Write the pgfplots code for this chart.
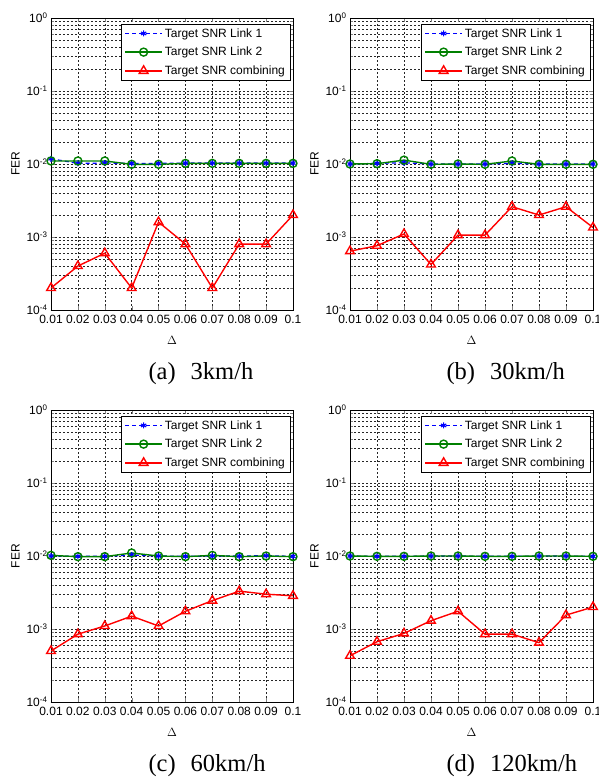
\documentclass[border=0pt]{standalone}
\usepackage{fontspec}
\setmainfont{Liberation Sans}
\newfontfamily\capfont{Liberation Serif}
\usepackage{pgfplots}
\pgfplotsset{compat=1.18}
\definecolor{mgreen}{rgb}{0,0.5,0}
\pgfplotsset{legend image code/.code={\draw[mark repeat=2,mark phase=2,#1] plot coordinates {(0pt,0pt) (18.5pt,0pt) (37pt,0pt)};}}
\begin{document}
\begin{tikzpicture}
\path[use as bounding box] (0pt,0pt) rectangle (598pt,779pt);
% (a)
\begin{axis}[
  at={(51pt,469pt)}, anchor=south west,
  scale only axis, width=242pt, height=292pt,
  ymode=log, ymin=1e-4, ymax=1,
  xmin=0.01, xmax=0.1,
  xtick={0.01,0.02,0.03,0.04,0.05,0.06,0.07,0.08,0.09,0.1},
  xticklabels={0.01,0.02,0.03,0.04,0.05,0.06,0.07,0.08,0.09,0.1},
  ytick={1e-4,1e-3,1e-2,1e-1,1},
  yticklabels={10\textsuperscript{-4},10\textsuperscript{-3},10\textsuperscript{-2},10\textsuperscript{-1},10\textsuperscript{0}},
  xmajorgrids=true, ymajorgrids=true, yminorgrids=true,
  major grid style={black!85, line width=0.5pt, dash pattern=on 2pt off 2pt},
  minor grid style={black!85, line width=0.5pt, dash pattern=on 2pt off 2pt},
  tick align=inside,
  axis line style={line width=0.8pt},
  tick label style={font=\fontsize{12}{12}\selectfont},
  xticklabel style={yshift=-2pt},
  label style={font=\fontsize{12}{12}\selectfont},
  xlabel={$\Delta$}, ylabel={FER},
  xlabel style={yshift=-5pt},
  legend cell align=left,
  legend style={at={(0.988,0.979)}, anchor=north east, font=\fontsize{12}{13}\selectfont, row sep=4.5pt, draw=black},
]
\addplot[blue, line width=1.2pt, dash pattern=on 4pt off 3pt, mark=asterisk, mark size=3pt, mark options={solid}] coordinates {(0.01,1.18e-2)(0.02,1.02e-2)(0.03,1.03e-2)(0.04,1.02e-2)(0.05,1.02e-2)(0.06,1.03e-2)(0.07,1.03e-2)(0.08,1.03e-2)(0.09,1.03e-2)(0.1,1.03e-2)};
\addplot[mgreen, line width=1.4pt, mark=o, mark size=4pt, mark options={solid}] coordinates {(0.01,1.1e-2)(0.02,1.1e-2)(0.03,1.1e-2)(0.04,0.99e-2)(0.05,0.99e-2)(0.06,1.02e-2)(0.07,1.02e-2)(0.08,1.02e-2)(0.09,1.02e-2)(0.1,1.02e-2)};
\addplot[red, line width=1.4pt, mark=triangle, mark size=5pt, mark options={solid}] coordinates {(0.01,2e-4)(0.02,4e-4)(0.03,6e-4)(0.04,2e-4)(0.05,1.6e-3)(0.06,8e-4)(0.07,2e-4)(0.08,8e-4)(0.09,8e-4)(0.1,2e-3)};
\legend{Target SNR Link 1,Target SNR Link 2,Target SNR combining}
\end{axis}
% (b)
\begin{axis}[
  at={(350pt,469pt)}, anchor=south west,
  scale only axis, width=243pt, height=292pt,
  ymode=log, ymin=1e-4, ymax=1,
  xmin=0.01, xmax=0.1,
  xtick={0.01,0.02,0.03,0.04,0.05,0.06,0.07,0.08,0.09,0.1},
  xticklabels={0.01,0.02,0.03,0.04,0.05,0.06,0.07,0.08,0.09,0.1},
  ytick={1e-4,1e-3,1e-2,1e-1,1},
  yticklabels={10\textsuperscript{-4},10\textsuperscript{-3},10\textsuperscript{-2},10\textsuperscript{-1},10\textsuperscript{0}},
  xmajorgrids=true, ymajorgrids=true, yminorgrids=true,
  major grid style={black!85, line width=0.5pt, dash pattern=on 2pt off 2pt},
  minor grid style={black!85, line width=0.5pt, dash pattern=on 2pt off 2pt},
  tick align=inside,
  axis line style={line width=0.8pt},
  tick label style={font=\fontsize{12}{12}\selectfont},
  xticklabel style={yshift=-2pt},
  label style={font=\fontsize{12}{12}\selectfont},
  xlabel={$\Delta$}, ylabel={FER},
  xlabel style={yshift=-5pt},
  legend cell align=left,
  legend style={at={(0.988,0.979)}, anchor=north east, font=\fontsize{12}{13}\selectfont, row sep=4.5pt, draw=black},
]
\addplot[blue, line width=1.2pt, dash pattern=on 4pt off 3pt, mark=asterisk, mark size=3pt, mark options={solid}] coordinates {(0.01,1e-2)(0.02,1.02e-2)(0.03,1.04e-2)(0.04,1e-2)(0.05,1e-2)(0.06,1e-2)(0.07,1.02e-2)(0.08,1e-2)(0.09,1e-2)(0.1,1e-2)};
\addplot[mgreen, line width=1.4pt, mark=o, mark size=4pt, mark options={solid}] coordinates {(0.01,1e-2)(0.02,1.01e-2)(0.03,1.13e-2)(0.04,0.99e-2)(0.05,1e-2)(0.06,0.99e-2)(0.07,1.1e-2)(0.08,0.99e-2)(0.09,0.99e-2)(0.1,0.99e-2)};
\addplot[red, line width=1.4pt, mark=triangle, mark size=5pt, mark options={solid}] coordinates {(0.01,6.4e-4)(0.02,7.6e-4)(0.03,1.1e-3)(0.04,4.2e-4)(0.05,1.06e-3)(0.06,1.06e-3)(0.07,2.6e-3)(0.08,2e-3)(0.09,2.6e-3)(0.1,1.35e-3)};
\legend{Target SNR Link 1,Target SNR Link 2,Target SNR combining}
\end{axis}
% (c)
\begin{axis}[
  at={(51pt,77pt)}, anchor=south west,
  scale only axis, width=242pt, height=292pt,
  ymode=log, ymin=1e-4, ymax=1,
  xmin=0.01, xmax=0.1,
  xtick={0.01,0.02,0.03,0.04,0.05,0.06,0.07,0.08,0.09,0.1},
  xticklabels={0.01,0.02,0.03,0.04,0.05,0.06,0.07,0.08,0.09,0.1},
  ytick={1e-4,1e-3,1e-2,1e-1,1},
  yticklabels={10\textsuperscript{-4},10\textsuperscript{-3},10\textsuperscript{-2},10\textsuperscript{-1},10\textsuperscript{0}},
  xmajorgrids=true, ymajorgrids=true, yminorgrids=true,
  major grid style={black!85, line width=0.5pt, dash pattern=on 2pt off 2pt},
  minor grid style={black!85, line width=0.5pt, dash pattern=on 2pt off 2pt},
  tick align=inside,
  axis line style={line width=0.8pt},
  tick label style={font=\fontsize{12}{12}\selectfont},
  xticklabel style={yshift=-2pt},
  label style={font=\fontsize{12}{12}\selectfont},
  xlabel={$\Delta$}, ylabel={FER},
  xlabel style={yshift=-5pt},
  legend cell align=left,
  legend style={at={(0.988,0.979)}, anchor=north east, font=\fontsize{12}{13}\selectfont, row sep=4.5pt, draw=black},
]
\addplot[blue, line width=1.2pt, dash pattern=on 4pt off 3pt, mark=asterisk, mark size=3pt, mark options={solid}] coordinates {(0.01,1e-2)(0.02,0.99e-2)(0.03,0.99e-2)(0.04,1.03e-2)(0.05,1e-2)(0.06,0.99e-2)(0.07,1e-2)(0.08,1e-2)(0.09,1.01e-2)(0.1,0.99e-2)};
\addplot[mgreen, line width=1.4pt, mark=o, mark size=4pt, mark options={solid}] coordinates {(0.01,1.02e-2)(0.02,0.98e-2)(0.03,0.98e-2)(0.04,1.1e-2)(0.05,1e-2)(0.06,0.98e-2)(0.07,1.02e-2)(0.08,0.98e-2)(0.09,1e-2)(0.1,0.98e-2)};
\addplot[red, line width=1.4pt, mark=triangle, mark size=5pt, mark options={solid}] coordinates {(0.01,5e-4)(0.02,8.5e-4)(0.03,1.1e-3)(0.04,1.5e-3)(0.05,1.1e-3)(0.06,1.75e-3)(0.07,2.45e-3)(0.08,3.3e-3)(0.09,3e-3)(0.1,2.85e-3)};
\legend{Target SNR Link 1,Target SNR Link 2,Target SNR combining}
\end{axis}
% (d)
\begin{axis}[
  at={(350pt,77pt)}, anchor=south west,
  scale only axis, width=243pt, height=292pt,
  ymode=log, ymin=1e-4, ymax=1,
  xmin=0.01, xmax=0.1,
  xtick={0.01,0.02,0.03,0.04,0.05,0.06,0.07,0.08,0.09,0.1},
  xticklabels={0.01,0.02,0.03,0.04,0.05,0.06,0.07,0.08,0.09,0.1},
  ytick={1e-4,1e-3,1e-2,1e-1,1},
  yticklabels={10\textsuperscript{-4},10\textsuperscript{-3},10\textsuperscript{-2},10\textsuperscript{-1},10\textsuperscript{0}},
  xmajorgrids=true, ymajorgrids=true, yminorgrids=true,
  major grid style={black!85, line width=0.5pt, dash pattern=on 2pt off 2pt},
  minor grid style={black!85, line width=0.5pt, dash pattern=on 2pt off 2pt},
  tick align=inside,
  axis line style={line width=0.8pt},
  tick label style={font=\fontsize{12}{12}\selectfont},
  xticklabel style={yshift=-2pt},
  label style={font=\fontsize{12}{12}\selectfont},
  xlabel={$\Delta$}, ylabel={FER},
  xlabel style={yshift=-5pt},
  legend cell align=left,
  legend style={at={(0.988,0.979)}, anchor=north east, font=\fontsize{12}{13}\selectfont, row sep=4.5pt, draw=black},
]
\addplot[blue, line width=1.2pt, dash pattern=on 4pt off 3pt, mark=asterisk, mark size=3pt, mark options={solid}] coordinates {(0.01,1e-2)(0.02,0.99e-2)(0.03,0.99e-2)(0.04,1e-2)(0.05,1e-2)(0.06,0.99e-2)(0.07,0.99e-2)(0.08,1e-2)(0.09,1e-2)(0.1,0.99e-2)};
\addplot[mgreen, line width=1.4pt, mark=o, mark size=4pt, mark options={solid}] coordinates {(0.01,1e-2)(0.02,0.99e-2)(0.03,0.99e-2)(0.04,1e-2)(0.05,1e-2)(0.06,0.99e-2)(0.07,0.99e-2)(0.08,1e-2)(0.09,1e-2)(0.1,0.99e-2)};
\addplot[red, line width=1.4pt, mark=triangle, mark size=5pt, mark options={solid}] coordinates {(0.01,4.3e-4)(0.02,6.7e-4)(0.03,8.7e-4)(0.04,1.3e-3)(0.05,1.75e-3)(0.06,8.5e-4)(0.07,8.5e-4)(0.08,6.5e-4)(0.09,1.55e-3)(0.1,2e-3)};
\legend{Target SNR Link 1,Target SNR Link 2,Target SNR combining}
\end{axis}
\node[anchor=base west, font=\capfont\fontsize{24.5}{24.5}\selectfont] at (145pt,399pt) {(a)\hspace{15pt}3km/h};
\node[anchor=base west, font=\capfont\fontsize{24.5}{24.5}\selectfont] at (443pt,399pt) {(b)\hspace{15pt}30km/h};
\node[anchor=base west, font=\capfont\fontsize{24.5}{24.5}\selectfont] at (145pt,7pt) {(c)\hspace{15pt}60km/h};
\node[anchor=base west, font=\capfont\fontsize{24.5}{24.5}\selectfont] at (443pt,7pt) {(d)\hspace{15pt}120km/h};
\end{tikzpicture}
\end{document}
